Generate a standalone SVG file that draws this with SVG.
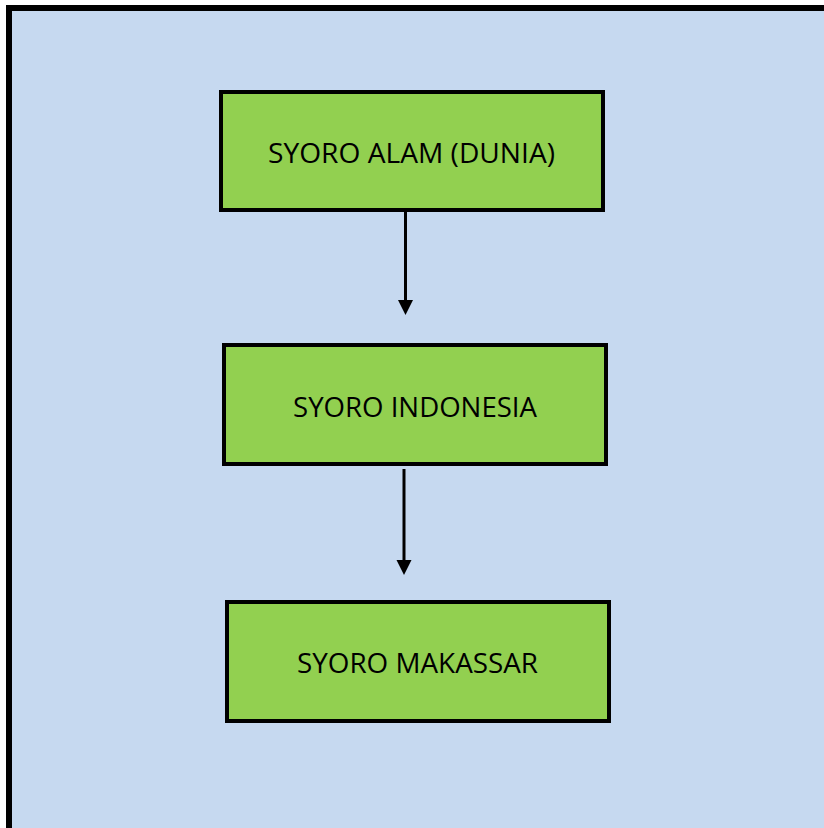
<svg xmlns="http://www.w3.org/2000/svg" width="824" height="828" viewBox="0 0 824 828">
<defs>
<style>
.node rect{fill:#92D050;stroke:#000;stroke-width:4}
.node text{font-family:"Open Sans","Liberation Sans",sans-serif;font-size:28px;fill:#000;text-anchor:middle}
.conn line{stroke:#000;stroke-width:3}
.conn path{fill:#000}
</style>
</defs>
<rect x="0" y="0" width="824" height="828" fill="#fff"/>
<rect id="frame" x="9" y="8" width="830" height="840" fill="#C6D9F0" stroke="#000" stroke-width="6"/>
<g id="conns" class="conn">
<line x1="405.5" y1="212" x2="405.5" y2="302"/>
<path d="M398,300 L413,300 L405.5,315 z"/>
<line x1="404" y1="469" x2="404" y2="562"/>
<path d="M396.5,560 L411.5,560 L404,575 z"/>
</g>
<g id="n1" class="node">
<rect x="221" y="92" width="382" height="118"/>
<text x="411.5" y="163" textLength="287" lengthAdjust="spacingAndGlyphs">SYORO ALAM (DUNIA)</text>
</g>
<g id="n2" class="node">
<rect x="224" y="345" width="382" height="119"/>
<text x="415" y="417" textLength="244" lengthAdjust="spacingAndGlyphs">SYORO INDONESIA</text>
</g>
<g id="n3" class="node">
<rect x="227" y="602" width="382" height="119"/>
<text x="417.5" y="673" textLength="241" lengthAdjust="spacingAndGlyphs">SYORO MAKASSAR</text>
</g>
</svg>
